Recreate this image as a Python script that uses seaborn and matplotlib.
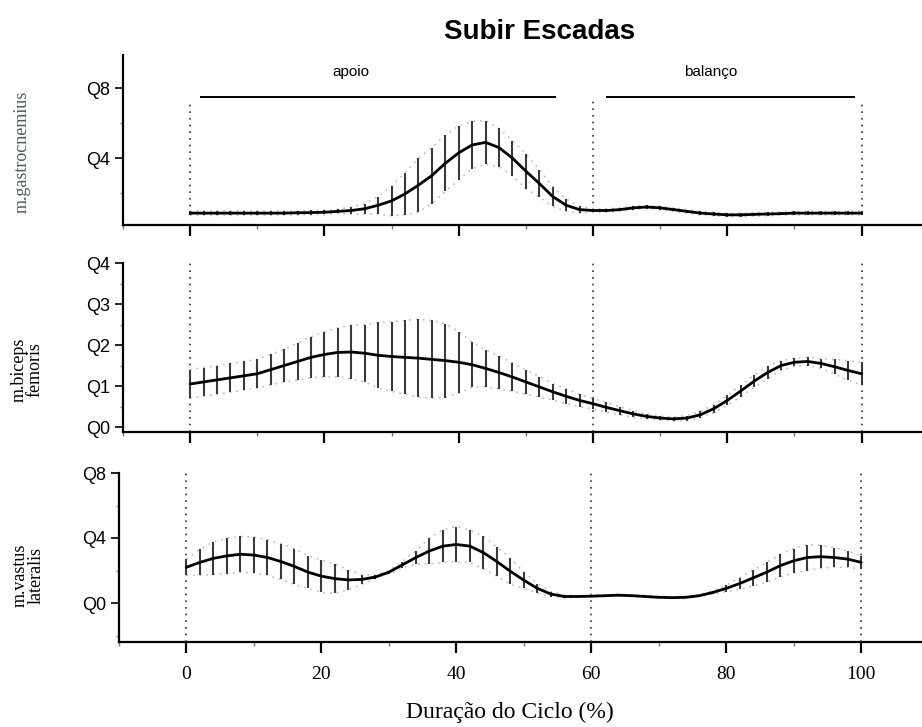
import numpy as np
import pandas as pd
import matplotlib
matplotlib.use("Agg")
import matplotlib.pyplot as plt
import seaborn as sns
from matplotlib.ticker import MultipleLocator, FixedLocator

# ---------------- data ----------------
cycle = list(range(0, 101, 2))

gastro_mean = [0.085, 0.085, 0.085, 0.085, 0.085, 0.085, 0.085, 0.085, 0.087, 0.088,
               0.09, 0.095, 0.10, 0.11, 0.13, 0.155, 0.195, 0.245, 0.30, 0.37,
               0.43, 0.475, 0.49, 0.46, 0.40, 0.325, 0.255, 0.18, 0.13, 0.105,
               0.10, 0.10, 0.105, 0.115, 0.12, 0.115, 0.105, 0.095, 0.085, 0.08,
               0.075, 0.075, 0.078, 0.08, 0.082, 0.085, 0.085, 0.085, 0.085, 0.085,
               0.085]
gastro_sd = [0.012, 0.012, 0.012, 0.012, 0.012, 0.012, 0.012, 0.012, 0.012, 0.012,
             0.012, 0.012, 0.02, 0.03, 0.05, 0.085, 0.12, 0.155, 0.16, 0.16,
             0.155, 0.135, 0.125, 0.11, 0.10, 0.10, 0.078, 0.057, 0.035, 0.02,
             0.01, 0.01, 0.01, 0.01, 0.01, 0.01, 0.01, 0.01, 0.01, 0.01,
             0.01, 0.01, 0.01, 0.01, 0.01, 0.01, 0.01, 0.01, 0.01, 0.01,
             0.01]

biceps_mean = [0.105, 0.11, 0.115, 0.12, 0.125, 0.13, 0.14, 0.15, 0.16, 0.17,
               0.177, 0.182, 0.183, 0.18, 0.175, 0.172, 0.17, 0.168, 0.165, 0.162,
               0.158, 0.152, 0.143, 0.133, 0.122, 0.11, 0.098, 0.086, 0.075, 0.065,
               0.057, 0.048, 0.04, 0.032, 0.026, 0.022, 0.02, 0.022, 0.03, 0.045,
               0.065, 0.088, 0.112, 0.133, 0.15, 0.158, 0.16, 0.155, 0.147, 0.138,
               0.13]
biceps_sd = [0.035, 0.035, 0.035, 0.035, 0.035, 0.035, 0.037, 0.04, 0.045, 0.05,
             0.055, 0.06, 0.065, 0.07, 0.08, 0.085, 0.09, 0.095, 0.095, 0.09,
             0.075, 0.055, 0.045, 0.04, 0.035, 0.03, 0.025, 0.02, 0.018, 0.015,
             0.013, 0.012, 0.01, 0.008, 0.006, 0.005, 0.005, 0.006, 0.008, 0.01,
             0.012, 0.014, 0.015, 0.015, 0.012, 0.01, 0.01, 0.012, 0.018, 0.024,
             0.028]

vastus_mean = [0.22, 0.25, 0.275, 0.29, 0.30, 0.295, 0.28, 0.255, 0.225, 0.19,
               0.165, 0.15, 0.142, 0.145, 0.16, 0.19, 0.235, 0.28, 0.32, 0.35,
               0.36, 0.35, 0.31, 0.255, 0.195, 0.14, 0.09, 0.055, 0.04, 0.04,
               0.042, 0.045, 0.048, 0.045, 0.04, 0.035, 0.033, 0.035, 0.045, 0.065,
               0.09, 0.12, 0.155, 0.19, 0.23, 0.26, 0.28, 0.285, 0.28, 0.27,
               0.25]
vastus_sd = [0.05, 0.08, 0.10, 0.11, 0.11, 0.11, 0.11, 0.11, 0.11, 0.10,
             0.10, 0.09, 0.06, 0.03, 0.01, 0.01, 0.02, 0.04, 0.08, 0.10,
             0.11, 0.10, 0.10, 0.09, 0.08, 0.05, 0.03, 0.015, 0.01, 0.005,
             0.005, 0.005, 0.005, 0.005, 0.005, 0.005, 0.005, 0.005, 0.005, 0.01,
             0.02, 0.035, 0.05, 0.06, 0.07, 0.075, 0.08, 0.07, 0.06, 0.05,
             0.04]

muscle_labels = ["m.gastrocnemius", "m.biceps\nfemoris", "m.vastus\nlateralis"]
phase_names = ["apoio", "balanço"]
phase_bounds = [0, 60, 100]
x_ticks = [0, 20, 40, 60, 80, 100]
x_ticklabels = ["0", "20", "40", "60", "80", "100"]
gastro_yticks = [0.4, 0.8]
gastro_yticklabels = ["Q4", "Q8"]
biceps_yticks = [0.0, 0.1, 0.2, 0.3, 0.4]
biceps_yticklabels = ["Q0", "Q1", "Q2", "Q3", "Q4"]
vastus_yticks = [0.0, 0.4, 0.8]
vastus_yticklabels = ["Q0", "Q4", "Q8"]
title = "Subir Escadas"
xlabel = "Duração do Ciclo (%)"

# ---------------- style ----------------
sns.set_style("ticks")
plt.rcParams['font.family'] = ['Liberation Sans', 'DejaVu Sans']
plt.rcParams['text.color'] = 'black'
plt.rcParams['axes.labelcolor'] = 'black'
plt.rcParams['axes.edgecolor'] = 'black'
plt.rcParams['axes.linewidth'] = 1.6
plt.rcParams['xtick.major.width'] = 1.6
plt.rcParams['ytick.major.width'] = 1.2
plt.rcParams['xtick.color'] = 'black'
plt.rcParams['ytick.color'] = 'black'

fig = plt.figure(figsize=(9.22, 7.27), dpi=100)
W, H = 922, 727

def add_ax(left, top, bottom):
    return fig.add_axes([left / W, 1 - bottom / H, 1 - left / W, (bottom - top) / H])

ax1 = add_ax(123, 55, 225)
ax2 = add_ax(123, 263, 432)
ax3 = add_ax(119, 473, 642)

panels = [
    (ax1, gastro_mean, gastro_sd, (0.017, 0.99), gastro_yticks, gastro_yticklabels, 0.2),
    (ax2, biceps_mean, biceps_sd, (-0.012, 0.4), biceps_yticks, biceps_yticklabels, 0.05),
    (ax3, vastus_mean, vastus_sd, (-0.24, 0.8), vastus_yticks, vastus_yticklabels, 0.2),
]

for ax, mean, sd, ylim, yt, ytl, minor in panels:
    df = pd.DataFrame({"x": cycle, "m": mean, "s": sd})
    lo = df["m"] - df["s"]
    hi = df["m"] + df["s"]
    # dotted envelope
    ax.plot(df["x"], lo, ls=(0, (1, 3)), color="#bcbcbc", lw=1.2, zorder=1)
    ax.plot(df["x"], hi, ls=(0, (1, 3)), color="#bcbcbc", lw=1.2, zorder=1)
    # SD bars
    ax.vlines(df["x"], lo, hi, color="#3a3a3a", lw=1.5, zorder=2)
    # mean curve
    sns.lineplot(data=df, x="x", y="m", ax=ax, color="black", lw=2.0, zorder=3)
    ax.set_xlim(-10, 109)
    ax.set_ylim(*ylim)
    ax.set_xlabel("")
    ax.set_ylabel("")
    sns.despine(ax=ax)
    ax.xaxis.set_major_locator(FixedLocator(x_ticks))
    ax.xaxis.set_minor_locator(MultipleLocator(10))
    ax.yaxis.set_major_locator(FixedLocator(yt))
    ax.set_yticklabels(ytl)
    ax.yaxis.set_minor_locator(MultipleLocator(minor))
    ax.tick_params(axis="x", which="major", length=8, direction="out")
    ax.tick_params(axis="x", which="minor", length=3, width=1.0, color="#777777")
    ax.tick_params(axis="y", which="major", length=6, direction="out", labelsize=13, pad=3)
    ax.tick_params(axis="y", which="minor", length=2, width=1.0, color="#888888")
    for t in ax.get_yticklabels():
        t.set_fontfamily(["Liberation Sans", "DejaVu Sans"])

for ax in (ax1, ax2):
    ax.tick_params(axis="x", labelbottom=False)

ax3.set_xticklabels(x_ticklabels)
ax3.tick_params(axis="x", labelsize=14, pad=9)
for t in ax3.get_xticklabels():
    t.set_fontfamily(["Liberation Serif", "DejaVu Serif"])

# phase boundary dotted lines
gm = dict(zip(cycle, gastro_mean))
arrow_y = 0.75
for b in phase_bounds:
    ax1.vlines(b, gm[b], arrow_y - 0.02, color="#333333", lw=1.2, ls=(0, (1, 3)), zorder=0)
    ax2.axvline(b, color="#333333", lw=1.2, ls=(0, (1, 3)), zorder=0)
    ax3.axvline(b, color="#333333", lw=1.2, ls=(0, (1, 3)), zorder=0)

# phase bars and names
ax1.hlines(arrow_y, phase_bounds[0] + 1.5, phase_bounds[1] - 5.5, color="black", lw=1.4)
ax1.hlines(arrow_y, phase_bounds[1] + 2, phase_bounds[2] - 1, color="black", lw=1.4)
ax1.text((phase_bounds[0] + phase_bounds[1]) / 2 - 6, 0.89, phase_names[0], ha="center", va="center",
         fontsize=11, family=["Liberation Sans Narrow", "Liberation Sans", "DejaVu Sans"])
ax1.text((phase_bounds[1] + phase_bounds[2]) / 2 - 2.5, 0.89, phase_names[1], ha="center", va="center",
         fontsize=11, family=["Liberation Sans Narrow", "Liberation Sans", "DejaVu Sans"])

# y labels
serif = ["Liberation Serif", "DejaVu Serif"]
fig.text(22 / W, 1 - 152 / H, muscle_labels[0], rotation=90, ha="center", va="center",
         fontsize=13, family=serif, color="#4a5e50", linespacing=0.9)
fig.text(27 / W, 1 - 370 / H, muscle_labels[1], rotation=90, ha="center", va="center",
         fontsize=13, family=serif, color="black", linespacing=0.9)
fig.text(28 / W, 1 - 575 / H, muscle_labels[2], rotation=90, ha="center", va="center",
         fontsize=13, family=serif, color="black", linespacing=0.9)

fig.text(540 / W, 1 - 32 / H, title, ha="center", va="center", fontsize=20,
         fontweight="bold", family=["Liberation Sans", "DejaVu Sans"], color="black")
fig.text(510 / W, 1 - 712 / H, xlabel, ha="center", va="center", fontsize=17, family=serif)

fig.savefig("out.png", dpi=100)
